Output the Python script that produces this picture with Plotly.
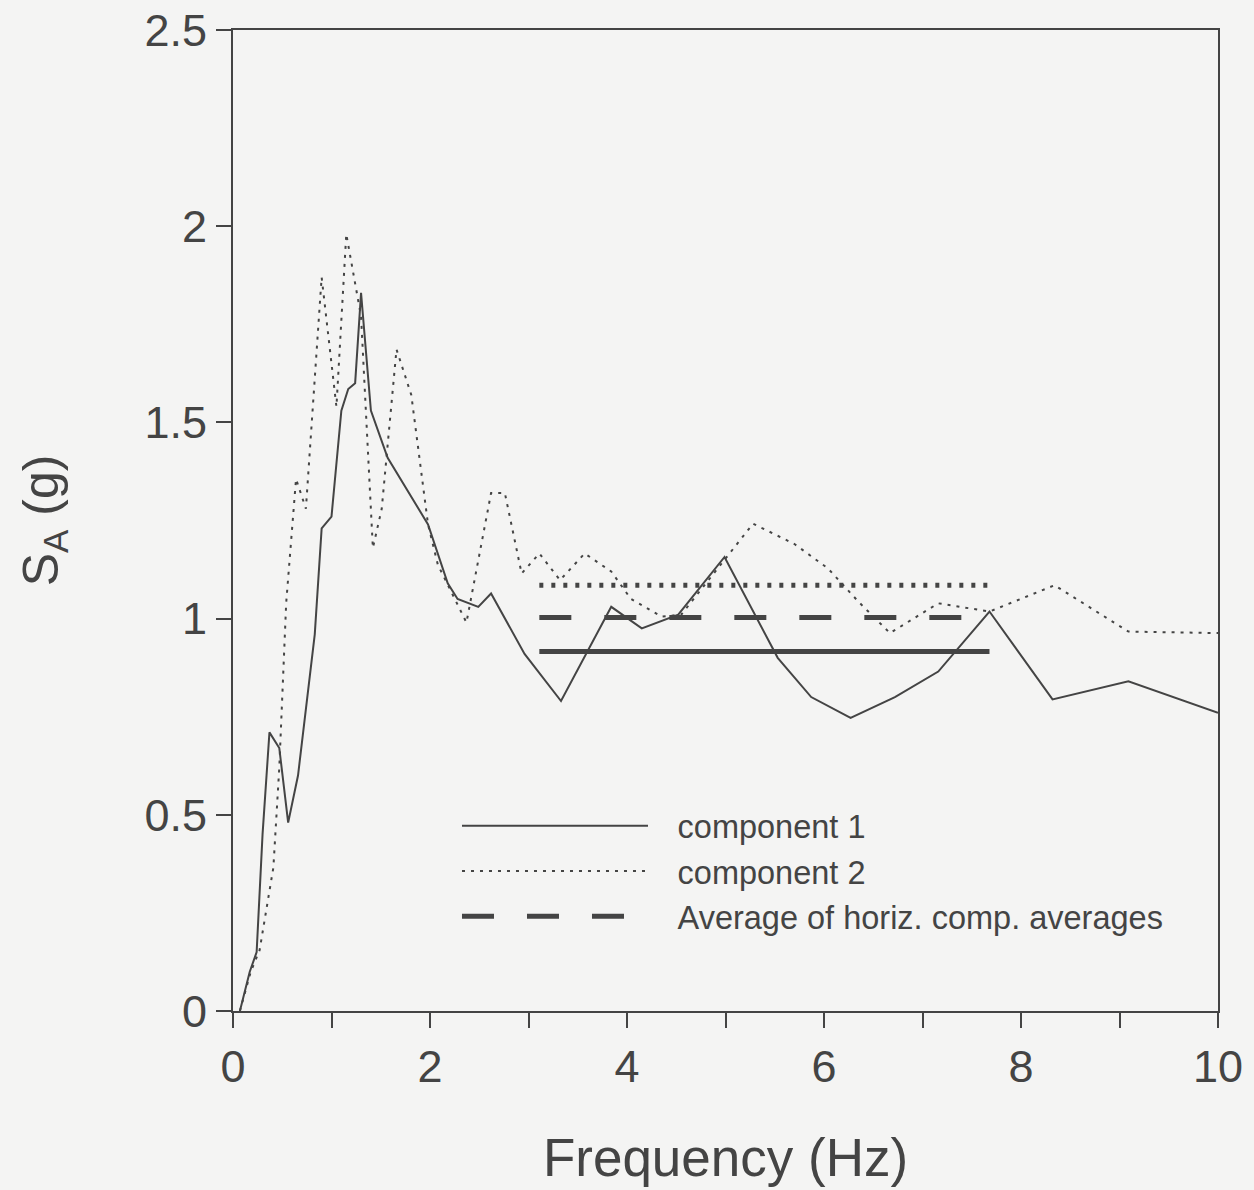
import plotly.graph_objects as go

# Response spectrum, component 1 (Hz, g)
comp1_f = [0.07, 0.17, 0.24, 0.30, 0.37, 0.47, 0.56, 0.66, 0.83, 0.90, 1.00, 1.10, 1.17,
           1.24, 1.30, 1.40, 1.57, 1.68, 1.98, 2.18, 2.28, 2.49, 2.62, 2.96, 3.33,
           3.84, 4.15, 4.52, 4.99, 5.53, 5.87, 6.27, 6.72, 7.16, 7.68, 8.32, 9.09, 10.0]
comp1_sa = [0.00, 0.10, 0.15, 0.45, 0.71, 0.67, 0.48, 0.60, 0.96, 1.23, 1.26, 1.53, 1.585,
            1.60, 1.83, 1.53, 1.41, 1.365, 1.24, 1.09, 1.05, 1.03, 1.064, 0.91, 0.79,
            1.03, 0.975, 1.01, 1.157, 0.90, 0.80, 0.747, 0.80, 0.865, 1.018, 0.794, 0.84, 0.76]

# Response spectrum, component 2 (Hz, g)
comp2_f = [0.07, 0.18, 0.27, 0.41, 0.47, 0.54, 0.64, 0.74, 0.90, 1.05, 1.15, 1.30, 1.42,
           1.51, 1.66, 1.81, 1.98, 2.08, 2.37, 2.62, 2.76, 2.93, 3.11, 3.32, 3.57, 3.84,
           4.04, 4.35, 4.55, 5.28, 5.70, 6.04, 6.35, 6.67, 7.16, 7.68, 8.34, 9.09, 10.0]
comp2_sa = [0.00, 0.10, 0.155, 0.366, 0.62, 1.04, 1.356, 1.28, 1.87, 1.54, 1.98, 1.77, 1.18,
            1.28, 1.686, 1.57, 1.24, 1.137, 0.99, 1.32, 1.32, 1.115, 1.166, 1.098, 1.166, 1.12,
            1.05, 1.005, 1.01, 1.242, 1.19, 1.128, 1.043, 0.963, 1.039, 1.018, 1.085, 0.967, 0.963]

# Band averages over the averaging frequency range
avg_band_f = [3.11, 7.68]
avg_comp1 = 0.916
avg_comp2 = 1.085
avg_both = 1.003

x_tickvals = list(range(0, 11))
x_ticktext = [str(v) if v % 2 == 0 else "" for v in x_tickvals]
y_tickvals = [0, 0.5, 1, 1.5, 2, 2.5]
y_ticktext = ["0", "0.5", "1", "1.5", "2", "2.5"]

ink = "#444444"
font_family = "Liberation Sans, Arial, sans-serif"
pad = "\u00a0\u00a0\u2009"  # gap between legend sample and its label

fig = go.Figure()

fig.add_trace(go.Scatter(
    x=comp1_f, y=comp1_sa, mode="lines", name=pad + "component 1",
    line=dict(color=ink, width=2),
))
fig.add_trace(go.Scatter(
    x=comp2_f, y=comp2_sa, mode="lines", name=pad + "component 2",
    line=dict(color=ink, width=2, dash="3px,6px"),
))
fig.add_trace(go.Scatter(
    x=avg_band_f, y=[avg_comp2] * 2, mode="lines", showlegend=False,
    line=dict(color=ink, width=5, dash="4px,8px"),
))
fig.add_trace(go.Scatter(
    x=avg_band_f, y=[avg_both] * 2, mode="lines",
    name=pad + "Average of horiz. comp. averages",
    line=dict(color=ink, width=5, dash="32px,33px"),
))
fig.add_trace(go.Scatter(
    x=avg_band_f, y=[avg_comp1] * 2, mode="lines", showlegend=False,
    line=dict(color=ink, width=5),
))

fig.update_layout(
    width=1254, height=1190,
    margin=dict(l=233, r=36, t=30, b=179),
    paper_bgcolor="#f4f4f3",
    plot_bgcolor="#f4f4f3",
    font=dict(family=font_family, color=ink, size=45),
    showlegend=True,
    legend=dict(
        x=0.2274, y=0.217, xanchor="left", yanchor="top",
        bgcolor="rgba(0,0,0,0)",
        font=dict(size=32.5, color=ink),
        itemwidth=186,
        tracegroupgap=0,
    ),
    xaxis=dict(
        range=[0, 10], tickvals=x_tickvals, ticktext=x_ticktext,
        ticks="outside", ticklen=15, tickwidth=2, tickcolor=ink,
        showline=True, linecolor=ink, linewidth=2, mirror=True,
        showgrid=False, zeroline=False, automargin=False,
        tickfont=dict(size=45),
        title=dict(text="Frequency (Hz)", font=dict(size=53), standoff=48),
    ),
    yaxis=dict(
        range=[0, 2.5], tickvals=y_tickvals, ticktext=y_ticktext,
        ticks="outside", ticklen=15, tickwidth=2, tickcolor=ink,
        showline=True, linecolor=ink, linewidth=2, mirror=True,
        showgrid=False, zeroline=False, automargin=False,
        tickfont=dict(size=45),
        title=dict(text="S<sub>A</sub> (g)", font=dict(size=50), standoff=70),
    ),
)

fig.write_html("out.html")
